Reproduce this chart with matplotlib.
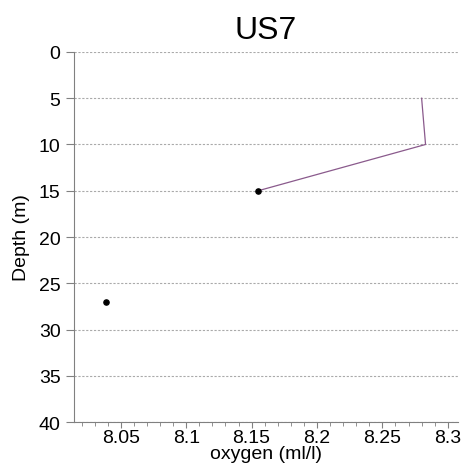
import matplotlib
matplotlib.use("Agg")
from matplotlib import pyplot as plt
from matplotlib.ticker import MultipleLocator

# 数据
line_depth = [5, 10, 15]
line_oxygen = [8.280, 8.283, 8.155]
point_depth = [15, 27]
point_oxygen = [8.155, 8.039]

plt.rcParams['font.family'] = ['Liberation Sans', 'DejaVu Sans']

fig = plt.figure(figsize=(4.61, 4.77), dpi=100)
ax = fig.add_axes([0.16, 0.113, 0.834, 0.776])

ax.plot(line_oxygen, line_depth, color="#8a5a8c", linewidth=0.9)
ax.scatter(point_oxygen, point_depth, color="black", s=14, zorder=3)

ax.set_xlim(8.014, 8.308)
ax.set_ylim(40, 0)
ax.xaxis.set_minor_locator(MultipleLocator(0.01))
ax.set_xticks([8.05, 8.1, 8.15, 8.2, 8.25, 8.3])
ax.set_xticklabels(["8.05", "8.1", "8.15", "8.2", "8.25", "8.3"])
ax.set_yticks(range(0, 41, 5))

ax.grid(axis="y", color="#aaaaaa", linestyle=(0, (2, 1.5)), linewidth=0.8)
for s in ["top", "right"]:
    ax.spines[s].set_visible(False)
for s in ["left", "bottom"]:
    ax.spines[s].set_color("#808080")
ax.tick_params(axis="both", which="both", colors="#808080", labelcolor="black", labelsize=14)
ax.tick_params(axis="x", which="major", length=4, pad=1)
ax.tick_params(axis="x", which="minor", length=3)
ax.tick_params(axis="y", length=6)

ax.set_xlabel("oxygen (ml/l)", fontsize=14, labelpad=-1)
ax.set_ylabel("Depth (m)", fontsize=14, labelpad=6)
ax.set_title("US7", fontsize=23, pad=10)

plt.savefig("out.png", dpi=100)
